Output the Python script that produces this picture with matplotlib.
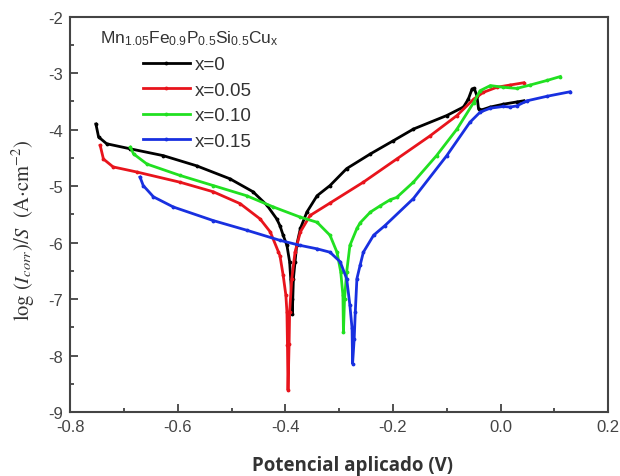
import numpy as np
import matplotlib.pyplot as plt
from matplotlib.ticker import MultipleLocator

plt.rcParams['mathtext.fontset'] = 'custom'
plt.rcParams['mathtext.rm'] = 'Liberation Sans'
plt.rcParams['mathtext.it'] = 'Liberation Sans:italic'

# Polarization curves: applied potential (V) vs log(Icorr)/S
x_0 = [-0.752, -0.747, -0.732, -0.688, -0.627, -0.565, -0.503, -0.46, -0.434, -0.416,
       -0.41, -0.404, -0.397, -0.392, -0.39, -0.388, -0.387, -0.385, -0.382, -0.379,
       -0.372, -0.36, -0.341, -0.317, -0.286, -0.242, -0.2, -0.162, -0.1, -0.069,
       -0.06, -0.053, -0.049, -0.044, -0.041, -0.035, -0.019, 0.005, 0.03, 0.043]
y_0 = [-3.9, -4.13, -4.25, -4.34, -4.46, -4.64, -4.87, -5.1, -5.34, -5.58,
       -5.7, -5.87, -6.05, -6.34, -6.64, -6.99, -7.26, -6.64, -6.35, -6.05,
       -5.75, -5.46, -5.17, -4.99, -4.69, -4.43, -4.2, -3.99, -3.75, -3.6,
       -3.46, -3.28, -3.27, -3.4, -3.63, -3.65, -3.6, -3.55, -3.51, -3.49]

x_05 = [-0.744, -0.738, -0.72, -0.676, -0.596, -0.534, -0.484, -0.447, -0.428, -0.413,
        -0.41, -0.404, -0.399, -0.397, -0.396, -0.395, -0.393, -0.392, -0.388, -0.382,
        -0.372, -0.354, -0.317, -0.255, -0.193, -0.131, -0.081, -0.05, -0.032, -0.007,
        0.018, 0.043]
y_05 = [-4.28, -4.52, -4.66, -4.75, -4.93, -5.1, -5.31, -5.58, -5.81, -6.16,
        -6.23, -6.58, -6.93, -7.23, -7.82, -8.61, -7.8, -7.23, -6.64, -6.17,
        -5.81, -5.52, -5.3, -4.93, -4.52, -4.11, -3.75, -3.46, -3.34, -3.25,
        -3.21, -3.17]

x_10 = [-0.688, -0.682, -0.657, -0.596, -0.534, -0.472, -0.422, -0.372, -0.341, -0.317,
        -0.304, -0.297, -0.293, -0.292, -0.29, -0.286, -0.28, -0.267, -0.261, -0.242,
        -0.224, -0.205, -0.193, -0.162, -0.119, -0.081, -0.05, -0.038, -0.019, 0.005,
        0.03, 0.055, 0.086, 0.111]
y_10 = [-4.31, -4.43, -4.61, -4.81, -4.99, -5.17, -5.37, -5.55, -5.64, -5.87,
        -6.17, -6.52, -6.93, -7.58, -7.0, -6.52, -6.05, -5.75, -5.65, -5.46,
        -5.35, -5.24, -5.2, -4.93, -4.46, -3.99, -3.52, -3.31, -3.22, -3.25,
        -3.27, -3.21, -3.13, -3.06]

x_15 = [-0.67, -0.664, -0.645, -0.608, -0.534, -0.472, -0.41, -0.372, -0.341, -0.317,
        -0.298, -0.286, -0.28, -0.276, -0.275, -0.272, -0.27, -0.267, -0.261, -0.255,
        -0.236, -0.215, -0.162, -0.1, -0.057, -0.038, -0.019, 0.005, 0.018, 0.03,
        0.049, 0.086, 0.129]
y_15 = [-4.84, -4.99, -5.19, -5.37, -5.61, -5.78, -5.96, -6.05, -6.11, -6.17,
        -6.34, -6.64, -7.11, -7.52, -8.14, -7.7, -7.23, -6.64, -6.4, -6.17,
        -5.87, -5.7, -5.22, -4.46, -3.87, -3.69, -3.62, -3.59, -3.6, -3.58,
        -3.49, -3.41, -3.33]

labels = ['x=0', 'x=0.05', 'x=0.10', 'x=0.15']
colors = ['black', '#e8141c', '#21e021', '#1830e0']

fig = plt.figure(figsize=(6.2, 4.77), dpi=100)
ax = fig.add_axes([0.113, 0.134, 0.868, 0.829])

for xs, ys, lab, col in zip([x_0, x_05, x_10, x_15], [y_0, y_05, y_10, y_15], labels, colors):
    ax.plot(xs, ys, color=col, lw=2.0, marker='.', markersize=3.5, label=lab)

ax.set_xlim(-0.8, 0.2)
ax.set_ylim(-9, -2)
ax.xaxis.set_major_locator(MultipleLocator(0.2))
ax.xaxis.set_minor_locator(MultipleLocator(0.1))
ax.yaxis.set_major_locator(MultipleLocator(1))
ax.yaxis.set_minor_locator(MultipleLocator(0.5))
ax.xaxis.set_major_formatter(lambda v, p: f'{v:.1f}')
ax.yaxis.set_major_formatter(lambda v, p: f'{v:.0f}')
ax.tick_params(which='both', direction='in', top=False, right=False,
               labelsize=12, labelcolor='#444444', color='#333333', width=1.2)
ax.tick_params(which='major', length=6, pad=5)
ax.tick_params(which='minor', length=3)
for lab in ax.get_xticklabels() + ax.get_yticklabels():
    lab.set_fontfamily('Liberation Sans')
for sp in ax.spines.values():
    sp.set_color('#444444')
    sp.set_linewidth(1.5)

ax.set_xlabel('Potencial aplicado (V)', fontsize=13.5, fontweight='bold',
              fontfamily='Open Sans', color='#333333')
ax.xaxis.set_label_coords(0.524, -0.108)
ax.set_ylabel(r'$\mathrm{log}\ (I_{corr})/S\ \ (\mathrm{A{\cdot}cm^{-2}})$', fontsize=14.8,
              color='#333333', math_fontfamily='stix')
ax.yaxis.set_label_coords(-0.061, 0.463)

ax.text(0.055, 0.97, r'Mn$_{1.05}$Fe$_{0.9}$P$_{0.5}$Si$_{0.5}$Cu$_{\mathrm{x}}$',
        transform=ax.transAxes, fontsize=12.5, fontfamily='Liberation Sans',
        color='#333333', va='top')
leg = ax.legend(loc='upper left', bbox_to_anchor=(0.135, 0.9), frameon=False,
                prop={'family': 'Liberation Sans', 'size': 13.5}, handlelength=2.5,
                handletextpad=0.27, labelspacing=0.45, borderaxespad=0, borderpad=0)
for t in leg.get_texts():
    t.set_color('#333333')

fig.savefig('out.png', dpi=100)
